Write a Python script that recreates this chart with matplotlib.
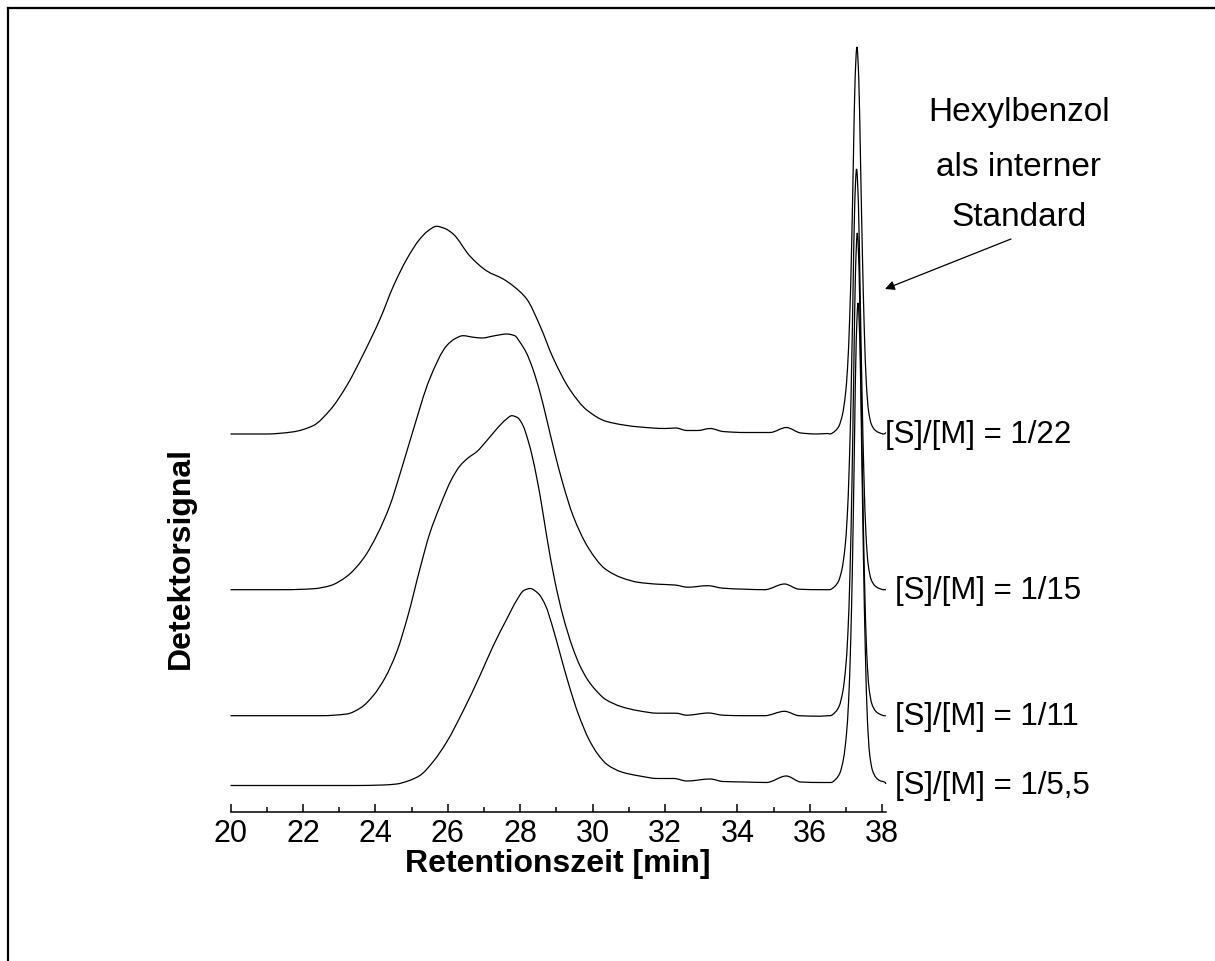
import numpy as np
import matplotlib
matplotlib.use('Agg')
import matplotlib.pyplot as plt
from matplotlib.lines import Line2D
from matplotlib.path import Path
from matplotlib.patches import PathPatch
from matplotlib.ticker import MultipleLocator

plt.rcParams['font.family'] = ['Liberation Sans', 'DejaVu Sans']

# ---------------- data ----------------
labels = ['[S]/[M] = 1/22', '[S]/[M] = 1/15', '[S]/[M] = 1/11', '[S]/[M] = 1/5,5']
offsets = [378.0, 222.3, 96.3, 26.5]          # vertical stacking offsets (arb. units)

# broad polymer signal, retention time [min] and detector signal (arb. units)
t_22 = [20.0, 21.0, 21.7, 22.28, 22.75, 23.21, 23.67, 24.13, 24.5, 24.87, 25.23, 25.45, 25.69,
        25.92, 26.15, 26.61, 27.08, 27.53, 27.81, 28.18, 28.55, 28.91, 29.38, 29.84, 30.39,
        31.31, 32.0, 32.3, 32.6, 32.9, 33.25, 33.6, 34.2, 34.9, 35.35, 35.75, 36.2, 36.5]
s_22 = [0, 0, 2, 8.3, 24, 48.3, 80, 115, 148, 175, 195, 203, 207.7,
        205.5, 200, 178, 163, 155, 148, 135, 108, 76, 44, 24, 12.5,
        7, 5.5, 6, 3.5, 3.5, 5.5, 2.5, 1.5, 1.5, 6.5, 1, 0, 0.5]

t_15 = [20.0, 21.5, 22.3, 22.75, 23.2, 23.66, 24.05, 24.40, 24.7, 25.03, 25.50, 25.97, 26.2,
        26.42, 26.7, 26.94, 27.3, 27.63, 27.85, 27.99, 28.17, 28.35, 28.55, 28.73, 28.96,
        29.18, 29.46, 29.88, 30.34, 30.8, 31.26, 31.8, 32.27, 32.63, 33.18, 33.6, 34.2,
        34.75, 35.3, 35.7, 36.3, 36.5]
s_15 = [0, 0, 1, 4, 13, 30.7, 55, 84, 118, 157.7, 210.7, 244, 251,
        254, 252.5, 251.7, 254, 255.7, 254, 247.7, 237, 220.7, 197, 170.7, 136,
        106, 74, 42, 21, 12, 7.4, 5.5, 4.7, 2.5, 4, 1.5, 0.5,
        0, 5.7, 0.5, 0, 0]

t_11 = [20.0, 22.5, 23.21, 23.6, 23.94, 24.27, 24.59, 24.9, 25.23, 25.5, 25.79, 26.1, 26.34,
        26.57, 26.8, 27.1, 27.35, 27.6, 27.77, 27.93, 28.08, 28.22, 28.35, 28.55, 28.73,
        28.95, 29.18, 29.45, 29.65, 29.88, 30.1, 30.34, 30.8, 31.26, 31.8, 32.3, 32.6,
        33.2, 33.6, 34.2, 34.75, 35.3, 35.7, 36.3, 36.5]
s_11 = [0, 0, 1.7, 8, 20, 38, 63.7, 100, 146.7, 182, 210, 236, 250,
        258, 264, 276, 286.7, 296, 300, 298, 290, 275, 256.7, 220, 180,
        136, 100, 68, 50, 35, 25, 16.7, 9, 5, 2.5, 2.5, 0.5,
        2.7, 0.5, 0, 0, 4.4, 0, -0.5, 0]

t_55 = [20.0, 23.5, 24.2, 24.59, 24.9, 25.23, 25.6, 25.97, 26.43, 26.89, 27.26, 27.63, 27.9,
        28.1, 28.27, 28.5, 28.7, 28.9, 29.1, 29.35, 29.6, 29.9, 30.15, 30.4, 30.8, 31.3,
        31.8, 32.25, 32.6, 33.25, 33.6, 34.2, 34.8, 35.35, 35.75, 36.3, 36.5]
s_55 = [0, 0, 0.5, 1.5, 4.5, 10, 24, 43.5, 75, 110, 140, 166.5, 185,
        195, 197, 192, 180, 158, 132, 100, 72, 46, 31, 21, 13.5, 9.5,
        7, 7, 4.5, 6.5, 4, 3.5, 3, 9.5, 3.5, 3, 3]

times = [t_22, t_15, t_11, t_55]
signals = [s_22, s_15, s_11, s_55]

# hexylbenzene (internal standard) peak
peak_center = [37.30, 37.29, 37.31, 37.33]
peak_height = [387.0, 420.7, 482.7, 479.5]
peak_base = [0.0, 0.0, 0.0, 3.0]
end_level = [1.5, 0.0, 0.0, 1.5]
peak_d = [-0.75, -0.6, -0.5, -0.4, -0.32, -0.26, -0.2, -0.15, -0.1, -0.05, 0.0,
          0.05, 0.1, 0.15, 0.2, 0.26, 0.32, 0.4, 0.5, 0.6, 0.75]
peak_v = [0.0, 0.008, 0.02, 0.05, 0.10, 0.17, 0.30, 0.47, 0.70, 0.92, 1.0,
          0.92, 0.70, 0.47, 0.28, 0.13, 0.06, 0.025, 0.01, 0.004, 0.0]

x_ticks = [20, 22, 24, 26, 28, 30, 32, 34, 36, 38]


def smooth_path(x, y):
    """Monotone cubic Hermite curve through the points, as Bezier path."""
    x = np.asarray(x, float)
    y = np.asarray(y, float)
    h = np.diff(x)
    d = np.diff(y) / h
    m = np.zeros_like(y)
    m[0], m[-1] = d[0], d[-1]
    for k in range(1, len(y) - 1):
        if d[k - 1] * d[k] <= 0:
            m[k] = 0.0
        else:
            w1 = 2 * h[k] + h[k - 1]
            w2 = h[k] + 2 * h[k - 1]
            m[k] = (w1 + w2) / (w1 / d[k - 1] + w2 / d[k])
    verts = [(x[0], y[0])]
    codes = [Path.MOVETO]
    for k in range(len(x) - 1):
        verts += [(x[k] + h[k] / 3, y[k] + m[k] * h[k] / 3),
                  (x[k + 1] - h[k] / 3, y[k + 1] - m[k + 1] * h[k] / 3),
                  (x[k + 1], y[k + 1])]
        codes += [Path.CURVE4] * 3
    return Path(verts, codes)


# ---------------- figure ----------------
W, H = 1215, 962
fig = plt.figure(figsize=(W / 100, H / 100), dpi=100)
ax_left, ax_right, ax_bottom, ax_top = 230.5, 885.9, 813.0, 20.0
ax = fig.add_axes([ax_left / W, 1 - ax_bottom / H, (ax_right - ax_left) / W, (ax_bottom - ax_top) / H])

for i in range(4):
    t = np.concatenate([times[i], peak_center[i] + np.array(peak_d), [38.1]])
    s = np.concatenate([signals[i], peak_base[i] + np.array(peak_v) * peak_height[i], [end_level[i]]])
    patch = PathPatch(smooth_path(t, s + offsets[i]), facecolor='none', edgecolor='black',
                      lw=0.9, transform=ax.transData, clip_on=False)
    ax.add_patch(patch)

ax.set_xlim(20, 38.1)
ax.set_ylim(0, ax_bottom - ax_top)
for sp in ['left', 'right', 'top']:
    ax.spines[sp].set_visible(False)
ax.spines['bottom'].set_linewidth(1.1)
ax.set_yticks([])
ax.set_xticks(x_ticks)
ax.xaxis.set_minor_locator(MultipleLocator(1))
ax.tick_params(axis='x', which='major', direction='in', length=6, width=1.1, labelsize=22, pad=4)
ax.tick_params(axis='x', which='minor', direction='in', length=3.5, width=1.1)

# curve labels
label_x = [38.07, 38.34, 38.34, 38.34]
for i in range(4):
    ax.text(label_x[i], offsets[i], labels[i], fontsize=22.5, va='center', ha='left', clip_on=False)

# axis titles
fig.text(558 / W, 1 - 864 / H, 'Retentionszeit [min]', fontsize=23, fontweight='bold',
         ha='center', va='center')
fig.text(181 / W, 1 - 558 / H, 'Detektorsignal', fontsize=23, fontweight='bold',
         ha='center', va='center', rotation=90)

# annotation
for txt, yy in [('Hexylbenzol', 112), ('als interner', 167), ('Standard', 217)]:
    fig.text(1019 / W, 1 - yy / H, txt, fontsize=24, ha='center', va='center')
ax.annotate('', xy=(885, H - 290), xycoords='figure pixels',
            xytext=(1011, H - 240), textcoords='figure pixels',
            arrowprops=dict(arrowstyle='-|>', color='black', lw=0.9,
                            mutation_scale=14, shrinkA=0, shrinkB=0))

# outer frame (top and left only visible)
fig.add_artist(Line2D([8 / W, 8 / W], [0, 1 - 8.5 / H], transform=fig.transFigure, color='black', lw=1.6))
fig.add_artist(Line2D([8 / W, 1], [1 - 8.5 / H, 1 - 8.5 / H], transform=fig.transFigure, color='black', lw=1.6))

fig.savefig('out.png', dpi=100)
